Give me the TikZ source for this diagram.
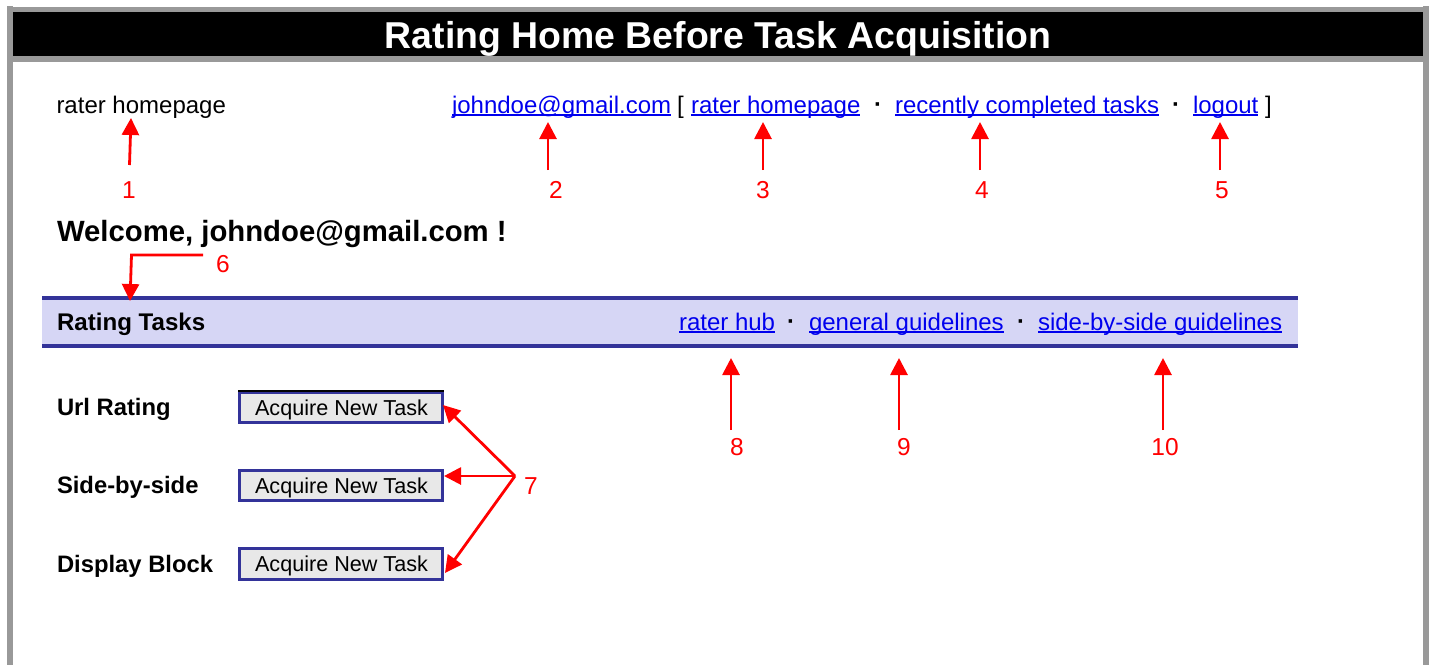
\documentclass[tikz,border=0pt]{standalone}
\usepackage{fontspec}
\setmainfont{Liberation Sans}
\usetikzlibrary{arrows.meta}
\definecolor{framegray}{HTML}{999999}
\definecolor{navy}{HTML}{333399}
\definecolor{barfill}{HTML}{D6D6F5}
\definecolor{btnfill}{HTML}{E8E8E8}
\definecolor{linkblue}{HTML}{0000EE}
\newcommand\lnk[1]{\setbox0\hbox{#1}\rlap{\rule[-2.8pt]{\wd0}{1.5pt}}\box0}
\tikzset{
  txt/.style={inner sep=0pt,outer sep=0pt,anchor=base west,text=black,font=\fontsize{24}{28}\selectfont},
  lnktxt/.style={txt,text=linkblue},
  boldtxt/.style={txt,font=\fontsize{24.1}{28}\selectfont\bfseries},
  rowtxt/.style={txt,font=\fontsize{23.8}{28}\selectfont\bfseries},
  num/.style={inner sep=0pt,outer sep=0pt,anchor=base,text=red,font=\fontsize{24.5}{28}\selectfont},
  dotsep/.style={inner sep=0pt,outer sep=0pt,anchor=base,text=black,font=\fontsize{24}{28}\selectfont\bfseries},
  btn/.style={draw=navy,line width=2.6pt,fill=btnfill,minimum width=203pt,minimum height=30.5pt,inner sep=0pt,outer sep=0pt,text=black,text depth=0pt,font=\fontsize{21.6}{26}\selectfont},
  redline/.style={draw=red,line width=2.8pt},
  redarrow/.style={redline,-{Triangle[width=17pt,length=17pt]}},
}
\begin{document}
\begin{tikzpicture}[x=1pt,y=-1pt]
\useasboundingbox (0,0) rectangle (1431,665);
\fill[white] (0,0) rectangle (1431,665);
% frame
\fill[framegray] (7,6) rectangle (13,665);
\fill[framegray] (1423,6) rectangle (1429,665);
\fill[framegray] (7,7) rectangle (1429,62);
\fill[black] (13,12) rectangle (1423,56);
\node[inner sep=0pt,anchor=base,text=white,font=\fontsize{37.4}{40}\selectfont\bfseries] (title) at (718,48) {Rating Home Before Task Acquisition};
% top row
\node[txt] (home) at (56.5,113) {rater homepage};
\node[lnktxt] (email) at (452,113) {\lnk{johndoe@gmail.com}};
\node[txt] (lb) at (677,113) {[};
\node[lnktxt] (rh) at (691,113) {\lnk{rater homepage}};
\node[dotsep] (d1) at (878,112) {·};
\node[lnktxt] (rct) at (895,113) {\lnk{recently completed tasks}};
\node[dotsep] (d2) at (1176,112) {·};
\node[lnktxt] (logout) at (1193,113) {\lnk{logout}};
\node[txt] (rb) at (1265,113) {]};
% welcome
\node[txt,font=\fontsize{29.3}{32}\selectfont\bfseries] (welcome) at (57,241) {Welcome, johndoe@gmail.com !};
% bar
\fill[barfill] (42,298) rectangle (1298,346);
\draw[navy,line width=4pt] (42,298) -- (1298,298);
\draw[navy,line width=4pt] (42,346) -- (1298,346);
\node[boldtxt] (rt) at (57,330) {Rating Tasks};
\node[lnktxt] (hub) at (679,330) {\lnk{rater hub}};
\node[dotsep] (d3) at (791,329) {·};
\node[lnktxt] (gg) at (809,330) {\lnk{general guidelines}};
\node[dotsep] (d4) at (1021,329) {·};
\node[lnktxt] (sg) at (1038,330) {\lnk{side-by-side guidelines}};
% rows
\node[rowtxt] (r1) at (57,415) {Url Rating};
\node[rowtxt] (r2) at (57,493) {Side-by-side};
\node[rowtxt] (r3) at (57,572) {Display Block};
\node[btn] (b1) at (341,407.5) {\hspace{1pt}Acquire New Task};
\node[btn] (b2) at (341,485.5) {\hspace{1pt}Acquire New Task};
\node[btn] (b3) at (341,564) {\hspace{1pt}Acquire New Task};
\draw[black,line width=1.5pt] (238,391) -- (444,391);
% labels
\node[num] (n1) at (129,198) {1};
\node[num] (n2) at (556,198) {2};
\node[num] (n3) at (763,198) {3};
\node[num] (n4) at (982,198) {4};
\node[num] (n5) at (1222,198) {5};
\node[num] (n6) at (223,272) {6};
\node[num] (n7) at (531,494) {7};
\node[num] (n8) at (737,455) {8};
\node[num] (n9) at (904,455) {9};
\node[num] (n10) at (1165,455) {10};
% anchors of connectors
\coordinate (s1) at (129.5,165); \coordinate (t1) at (131,118);
\coordinate (s2) at (548,170);   \coordinate (t2) at (548,122);
\coordinate (s3) at (763,170);   \coordinate (t3) at (763,122);
\coordinate (s4) at (980,170);   \coordinate (t4) at (980,122);
\coordinate (s5) at (1220,170);  \coordinate (t5) at (1220,122);
\coordinate (s6) at (203,255);   \coordinate (c6) at (131.5,255); \coordinate (t6) at (130,301);
\coordinate (s8) at (731,430);   \coordinate (t8) at (731,358);
\coordinate (s9) at (899,430);   \coordinate (t9) at (899,358);
\coordinate (s10) at (1163,430); \coordinate (t10) at (1163,358);
\coordinate (s7) at (515,476);
\coordinate (t7a) at (443,405);
\coordinate (t7b) at (444,476);
\coordinate (t7c) at (445,573);
% connectors
\draw[redarrow] (s1) -- (t1);
\draw[redarrow] (s2) -- (t2);
\draw[redarrow] (s3) -- (t3);
\draw[redarrow] (s4) -- (t4);
\draw[redarrow] (s5) -- (t5);
\draw[redarrow] (s6) -- (c6) -- (t6);
\draw[redarrow] (s8) -- (t8);
\draw[redarrow] (s9) -- (t9);
\draw[redarrow] (s10) -- (t10);
\draw[redarrow] (s7) -- (t7a);
\draw[redarrow] (s7) -- (t7b);
\draw[redarrow] (s7) -- (t7c);
\end{tikzpicture}
\end{document}
